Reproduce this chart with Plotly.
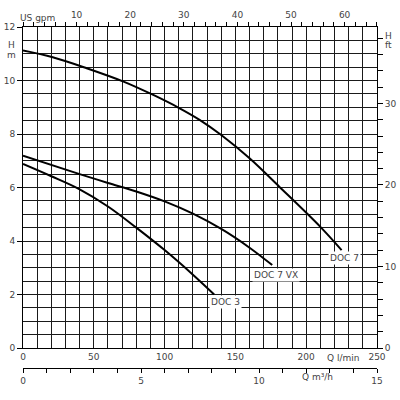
import plotly.graph_objects as go

# Data (Q in l/min, H in m)
doc7_q = [0, 21, 45, 71, 92, 110, 125, 140, 160, 181, 210, 225]
doc7_h = [11.12, 10.87, 10.46, 9.96, 9.46, 8.98, 8.52, 7.96, 7.09, 6.03, 4.53, 3.66]
doc7vx_q = [0, 40, 60, 80, 100, 120, 140, 160, 176]
doc7vx_h = [7.19, 6.50, 6.17, 5.85, 5.48, 5.02, 4.45, 3.75, 3.10]
doc3_q = [0, 20, 40, 60, 80, 100, 120, 135]
doc3_h = [6.88, 6.42, 5.93, 5.29, 4.50, 3.66, 2.74, 2.00]

labels = ["DOC 7", "DOC 7 VX", "DOC 3"]
label_pos = [(227, 3.36), (179, 2.73), (143, 1.72)]

lmin_ticks = [0, 50, 100, 150, 200, 250]
m3h_ticks = [0, 5, 10, 15]
gpm_ticks = [10, 20, 30, 40, 50, 60]
hm_ticks = [0, 2, 4, 6, 8, 10, 12]
hft_ticks = [0, 10, 20, 30]

FONT = "DejaVu Sans"
TXT = "#444"
GRID = "#1a1a1a"
L, R, T, B = 23, 23, 27, 25
PW, PH = 400 - L - R, 400 - T - B

fig = go.Figure()
for q, h in [(doc7_q, doc7_h), (doc7vx_q, doc7vx_h), (doc3_q, doc3_h)]:
    fig.add_trace(go.Scatter(x=q, y=h, mode="lines",
                             line=dict(color="black", width=2, shape="spline"),
                             showlegend=False, hoverinfo="skip"))

# invisible traces to activate extra axes
for xa, ya in [("x2", "y"), ("x3", "y"), ("x", "y2")]:
    fig.add_trace(go.Scatter(x=[0], y=[0], xaxis=xa, yaxis=ya, mode="markers",
                             marker=dict(opacity=0), showlegend=False, hoverinfo="skip"))

tf = dict(size=9, color=TXT, family=FONT)
fig.update_layout(
    width=400, height=400,
    margin=dict(l=L, r=R, t=T, b=B, autoexpand=False),
    paper_bgcolor="white", plot_bgcolor="white",
    font=dict(family=FONT, size=9, color=TXT),
    xaxis=dict(range=[0, 250], tickmode="array", tickvals=lmin_ticks, showgrid=True,
               gridcolor=GRID, gridwidth=1, zeroline=False, automargin=False,
               minor=dict(dtick=10, showgrid=True, gridcolor=GRID, gridwidth=1, ticks=""),
               showline=True, linecolor="black", linewidth=1,
               anchor="y", ticks="", tickfont=tf),
    yaxis=dict(range=[0, 12], domain=[(375 - 348) / PH, 1],
               tickmode="array", tickvals=hm_ticks, showgrid=True, gridcolor=GRID, gridwidth=1,
               minor=dict(dtick=0.5, showgrid=True, gridcolor=GRID, gridwidth=1, ticks=""),
               zeroline=False, showline=True, linecolor="black", linewidth=1, automargin=False,
               ticks="outside", ticklen=5, tickcolor="black", tickfont=tf),
    xaxis2=dict(range=[0, 15], overlaying="x", side="bottom", anchor="free",
                position=(375 - 368) / PH, automargin=False,
                tickmode="array", tickvals=list(range(16)),
                ticktext=[str(v) if v in m3h_ticks else "" for v in range(16)],
                showgrid=False, zeroline=False, showline=True, linecolor="black", linewidth=1,
                ticks="outside", ticklen=4, tickcolor="black", tickfont=tf),
    xaxis3=dict(range=[0, 250 / 3.78541], overlaying="x", side="top", anchor="y",
                tickmode="array", tickvals=list(range(0, 67, 2)), automargin=False,
                ticktext=[str(v) if v in gpm_ticks else "" for v in range(0, 67, 2)],
                showgrid=False, zeroline=False, showline=True, linecolor="black", linewidth=1,
                ticks="outside", ticklen=4, tickcolor="black", tickfont=tf),
    yaxis2=dict(range=[0, 12 / 0.3048], overlaying="y", side="right", anchor="x",
                tickmode="array", tickvals=list(range(0, 40, 2)), automargin=False,
                ticktext=[str(v) if v in hft_ticks else "" for v in range(0, 40, 2)],
                showgrid=False, zeroline=False, showline=True, linecolor="black", linewidth=1,
                ticks="outside", ticklen=5, tickcolor="black", tickfont=tf),
)

ann = []
for t, (x, y) in zip(labels, label_pos):
    ann.append(dict(x=x, y=y, xref="x", yref="y", text=t, showarrow=False,
                    bgcolor="white", font=tf, borderpad=1))
extra = [
    ("US gpm", 37, 18),
    ("Q l/min", 343, 358),
    ("Q m³/h", 317, 377),
    ("H", 11, 45),
    ("m", 11, 55),
    ("H", 388, 36),
    ("ft", 388, 45),
]
for t, px, py in extra:
    ann.append(dict(x=(px - L) / PW, y=(400 - B - py) / PH, xref="paper", yref="paper",
                    text=t, showarrow=False, xanchor="center", yanchor="middle",
                    font=tf))
fig.update_layout(annotations=ann)

fig.write_html("out.html", config={"displayModeBar": False},
               post_script="document.body.style.margin='0';document.body.style.overflow='hidden';")
